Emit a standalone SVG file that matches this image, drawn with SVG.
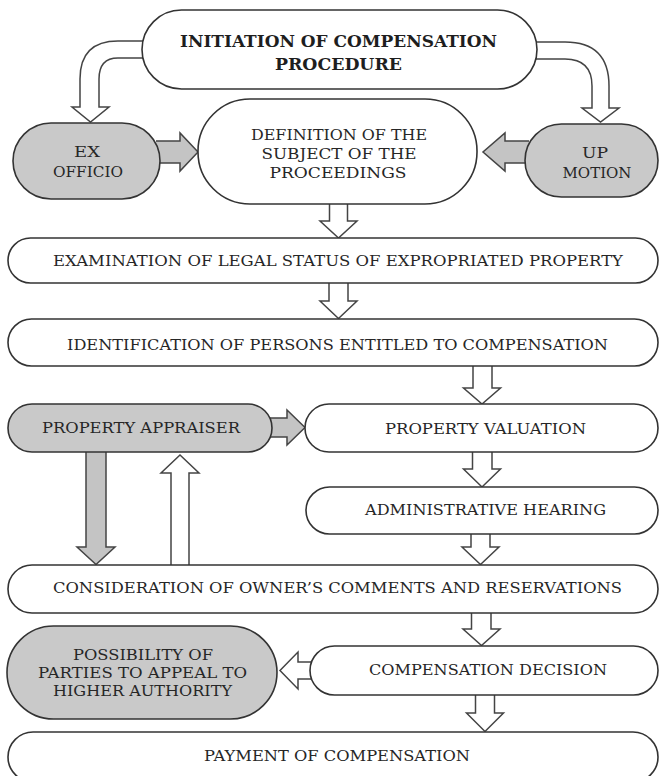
<svg xmlns="http://www.w3.org/2000/svg" width="659" height="776" viewBox="0 0 659 776">
<style>
.box{fill:#fff;stroke:#333;stroke-width:1.6}
.gbox{fill:#c9c9c9;stroke:#333;stroke-width:1.6}
.arw{fill:#fff;stroke:#444;stroke-width:1.5;stroke-linejoin:miter}
.garw{fill:#c4c4c4;stroke:#444;stroke-width:1.5;stroke-linejoin:miter}
text{font-family:"DejaVu Serif","Liberation Serif",serif;font-size:15px;fill:#262626;text-anchor:middle}
.b{font-weight:bold;font-size:16px;fill:#1e1e1e}
</style>
<rect width="659" height="776" fill="#fff"/>
<g id="connectors">
<path class="arw" d="M146,41 L118,41 Q80,41 80,79 L80,107 L72,107 L90.5,122 L109,107 L99,107 L99,79 Q99,58 118,58 L146,58"/>
<path class="arw" d="M533,42 L565,42 Q609,42 609,86 L609,108 L619,108 L600.5,122 L582,108 L592,108 L592,86 Q592,59 565,59 L533,59"/>
<path class="garw" d="M156,141 L180,141 L180,133 L198,152 L180,171 L180,163 L156,163"/>
<path class="garw" d="M529,141 L505,141 L505,133 L483,152 L505,171 L505,163 L529,163"/>
<path class="arw" d="M329.5,201 L329.5,221 L320,221 L338.5,238 L357,221 L347.5,221 L347.5,201"/>
<path class="arw" d="M329,280 L329,301 L320,301 L338.5,318.5 L357,301 L348,301 L348,280"/>
<path class="arw" d="M473,363 L473,388 L463.5,388 L482,404 L500.5,388 L492,388 L492,363"/>
<path class="arw" d="M472.5,449 L472.5,469 L463.5,469 L482,487 L500.5,469 L492,469 L492,449"/>
<path class="arw" d="M471,531 L471,547 L462,547 L480.5,564.5 L499,547 L490,547 L490,531"/>
<path class="arw" d="M471.5,610 L471.5,629 L463,629 L481.5,645.5 L500,629 L491,629 L491,610"/>
<path class="arw" d="M475.5,692 L475.5,713 L466.5,713 L485,731.5 L503.5,713 L494.5,713 L494.5,692"/>
<path class="garw" d="M269,418 L287,418 L287,410 L305,427.5 L287,445 L287,437 L269,437"/>
<path class="garw" d="M86,449 L86,547 L77,547 L96,564.5 L115,547 L106,547 L106,449"/>
<path class="arw" d="M171,568 L171,473 L161,473 L180,455 L199,473 L189,473 L189,568"/>
<path class="arw" d="M313,662 L298,662 L298,652 L280,670.5 L298,689 L298,679 L313,679"/>
</g>
<g id="n-initiation"><rect class="box" x="142" y="10" width="395" height="79" rx="39.5"/>
<text class="b" x="338.5" y="47" textLength="317" lengthAdjust="spacingAndGlyphs">INITIATION OF COMPENSATION</text>
<text class="b" x="338.5" y="70" textLength="127" lengthAdjust="spacingAndGlyphs">PROCEDURE</text></g>
<g id="n-exofficio"><rect class="gbox" x="13" y="123" width="147" height="76" rx="38"/>
<text x="87" y="157" textLength="26" lengthAdjust="spacingAndGlyphs">EX</text>
<text x="88" y="177" textLength="70" lengthAdjust="spacingAndGlyphs">OFFICIO</text></g>
<g id="n-definition"><rect class="box" x="198" y="99" width="279" height="105" rx="52"/>
<text x="339" y="140" textLength="176" lengthAdjust="spacingAndGlyphs">DEFINITION OF THE</text>
<text x="339" y="159" textLength="155" lengthAdjust="spacingAndGlyphs">SUBJECT OF THE</text>
<text x="338" y="178" textLength="137" lengthAdjust="spacingAndGlyphs">PROCEEDINGS</text></g>
<g id="n-upmotion"><rect class="gbox" x="525" y="124" width="133" height="73" rx="36.5"/>
<text x="595" y="158" textLength="26" lengthAdjust="spacingAndGlyphs">UP</text>
<text x="597" y="178">MOTION</text></g>
<g id="n-examination"><rect class="box" x="8" y="238" width="650" height="45" rx="22.5"/>
<text x="338" y="266" textLength="570" lengthAdjust="spacingAndGlyphs">EXAMINATION OF LEGAL STATUS OF EXPROPRIATED PROPERTY</text></g>
<g id="n-identification"><rect class="box" x="8" y="319" width="650" height="47" rx="23.5"/>
<text x="337.5" y="350" textLength="541" lengthAdjust="spacingAndGlyphs">IDENTIFICATION OF PERSONS ENTITLED TO COMPENSATION</text></g>
<g id="n-appraiser"><rect class="gbox" x="8" y="404" width="264" height="48" rx="24"/>
<text x="141" y="433" textLength="198" lengthAdjust="spacingAndGlyphs">PROPERTY APPRAISER</text></g>
<g id="n-valuation"><rect class="box" x="305" y="404" width="353" height="48" rx="24"/>
<text x="485.5" y="434" textLength="201" lengthAdjust="spacingAndGlyphs">PROPERTY VALUATION</text></g>
<g id="n-hearing"><rect class="box" x="306" y="487" width="352" height="47" rx="23.5"/>
<text x="485.5" y="515" textLength="241" lengthAdjust="spacingAndGlyphs">ADMINISTRATIVE HEARING</text></g>
<g id="n-consideration"><rect class="box" x="8" y="565" width="650" height="48" rx="24"/>
<text x="337.5" y="593" textLength="569" lengthAdjust="spacingAndGlyphs">CONSIDERATION OF OWNER’S COMMENTS AND RESERVATIONS</text></g>
<g id="n-appeal"><rect class="gbox" x="7" y="626" width="270" height="93" rx="46.5"/>
<text x="143" y="660" textLength="140" lengthAdjust="spacingAndGlyphs">POSSIBILITY OF</text>
<text x="142.5" y="678" textLength="209" lengthAdjust="spacingAndGlyphs">PARTIES TO APPEAL TO</text>
<text x="142.5" y="696" textLength="179" lengthAdjust="spacingAndGlyphs">HIGHER AUTHORITY</text></g>
<g id="n-decision"><rect class="box" x="310" y="646" width="348" height="49" rx="24.5"/>
<text x="488" y="675" textLength="238" lengthAdjust="spacingAndGlyphs">COMPENSATION DECISION</text></g>
<g id="n-payment"><rect class="box" x="8" y="732" width="650" height="50" rx="25"/>
<text x="337" y="761" textLength="266" lengthAdjust="spacingAndGlyphs">PAYMENT OF COMPENSATION</text></g>
</svg>
